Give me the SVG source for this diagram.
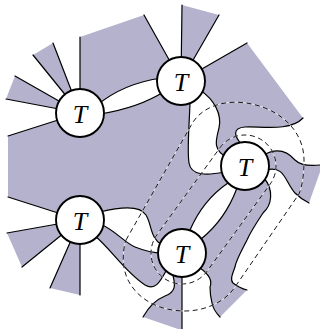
<svg xmlns="http://www.w3.org/2000/svg" width="320" height="329" viewBox="0 0 320 329">
<style>
.face{fill:#b4b2cc;stroke:none}
.edge{fill:none;stroke:#000;stroke-width:1.2;stroke-linecap:round}
.loop-bg{fill:none;stroke:#fff;stroke-width:0.7}
.loop{fill:none;stroke:#000;stroke-width:0.9;stroke-dasharray:5 3.5}
.node circle{fill:#fff;stroke:#000;stroke-width:1.9}
.node text{font-family:"Liberation Serif","Times New Roman",serif;font-style:italic;font-size:26px;text-anchor:middle}
</style>
<rect width="320" height="329" fill="#fff"/>

<!-- shaded faces -->
<g id="faces">
  <path class="face" d="M80,113 L53,43 L33,55 Z"/>
  <path class="face" d="M80,113 L15,76 L6,99 Z"/>
  <path class="face" d="M80,113 L80,37 L144,15 L181,81 L160,79 C140,81 115,90 100,104 Z"/>
  <path class="face" d="M181,81 L182,5 L219,15 Z"/>
  <path class="face" d="M181,81 L247,43 L303,118 C290,132 260,126 245,127 C232,128 234,136 242,145 L245,166 L228,158 C212,150 216,140 219,128 C222,115 215,100 203,92 Z"/>
  <path class="face" d="M245,166 L262,156 C278,146 288,152 295,160 C300,165 310,166 320,165 L320,172 L309,203 C305,201 300,198 295,193 C285,182 285,165 266,170 Z"/>
  <path class="face" d="M245,166 L264,178 C274,190 272,205 263,213 C255,225 250,233 247,240 C242,250 236,260 235,267 C232,275 230,280 233,283 C238,287 243,289 247,290 L220,317 C216,313 213,308 212,303 C210,295 210,290 210,287 C212,282 210,275 200,268 L182,253 L201,239 Q225,220 237,188 Z"/>
  <path class="face" d="M80,113 L100,114 C125,110 148,102 165,91 L181,81 L190,103 C189,130 187,150 189,163 C191,175 205,176 224,172 L245,166 L228,183 Q203,200 190,230 L182,253 L162,245 C150,238 152,225 146,215 C140,205 120,207 100,212 L80,220 L8,197 L8,136 Z"/>
  <path class="face" d="M80,220 L100,224 C115,230 125,243 135,247 C145,251 152,253 162,253 L182,253 L166,271 C160,282 155,291 145,285 C125,272 110,248 95,236 Z"/>
  <path class="face" d="M182,253 L182,329 L178,329 L143,317 C148,308 155,300 165,296 C176,292 176,285 172,272 Z"/>
  <path class="face" d="M80,220 L7,233 L22,267 Z"/>
  <path class="face" d="M80,220 L50,288 L80,295 Z"/>
</g>

<!-- legs and bonds -->
<g id="connectors">
  <path class="edge" d="M80,113 L53,43 M80,113 L33,55 M80,113 L15,76 M80,113 L6,99 M80,113 L8,136 M80,113 L80,37"/>
  <path class="edge" d="M96,106 C115,90 140,81 162,78"/>
  <path class="edge" d="M100,114 C125,110 148,102 165,91"/>
  <path class="edge" d="M181,81 L144,15 M181,81 L182,5 M181,81 L219,15 M181,81 L247,43"/>
  <path class="edge" d="M190,95 L190,103 C189,130 187,150 189,163 C191,175 205,176 224,172"/>
  <path class="edge" d="M200,90 C215,100 222,115 219,128 C216,140 212,150 228,158"/>
  <path class="edge" d="M303,118 C290,132 260,126 245,127 C232,128 234,136 242,145"/>
  <path class="edge" d="M262,156 C278,146 288,152 295,160 C300,165 310,166 320,165"/>
  <path class="edge" d="M266,170 C285,165 285,182 295,193 C300,198 305,201 309,203"/>
  <path class="edge" d="M264,178 C274,190 272,205 263,213 C255,225 250,233 247,240 C242,250 236,260 235,267 C232,275 230,280 233,283 C238,287 243,289 247,290"/>
  <path class="edge" d="M228,183 Q203,200 190,230"/>
  <path class="edge" d="M237,188 Q225,220 201,239"/>
  <path class="edge" d="M200,268 C210,275 212,282 210,287 C210,290 210,295 212,303 C213,308 216,313 220,317"/>
  <path class="edge" d="M182,270 L182,329"/>
  <path class="edge" d="M172,272 C176,285 176,292 165,296 C155,300 148,308 143,317"/>
  <path class="edge" d="M100,212 C120,207 140,205 146,215 C152,225 150,238 162,245"/>
  <path class="edge" d="M100,224 C115,230 125,243 135,247 C145,251 152,253 162,253"/>
  <path class="edge" d="M95,236 C110,248 125,272 145,285 C155,291 160,282 166,271"/>
  <path class="edge" d="M80,220 L8,197 M80,220 L7,233 M80,220 L22,267 M80,220 L50,288 M80,220 L80,295"/>
</g>

<!-- dashed regions -->
<g id="regions">
  <path class="loop-bg" d="M126,240 L193,122 C208,100 240,98 265,108 C290,118 304,138 304,160 C304,172 303,184 299,194 L235,287 C225,302 205,311 185,311 C160,311 138,300 128,280 C122,268 122,252 126,240 Z"/>
  <path class="loop" d="M126,240 L193,122 C208,100 240,98 265,108 C290,118 304,138 304,160 C304,172 303,184 299,194 L235,287 C225,302 205,311 185,311 C160,311 138,300 128,280 C122,268 122,252 126,240 Z"/>
  <path class="loop-bg" d="M219.9,147.8 A31,31 0 0,1 270.1,184.2 L207.1,271.2 A31,31 0 0,1 156.9,234.8 Z"/>
  <path class="loop" d="M219.9,147.8 A31,31 0 0,1 270.1,184.2 L207.1,271.2 A31,31 0 0,1 156.9,234.8 Z"/>
</g>

<g id="n1" class="node"><circle cx="80" cy="113" r="24"/><text x="80" y="122.5">T</text></g>
<g id="n2" class="node"><circle cx="181" cy="81" r="24"/><text x="181" y="90.5">T</text></g>
<g id="n3" class="node"><circle cx="245" cy="166" r="24"/><text x="245" y="175.5">T</text></g>
<g id="n4" class="node"><circle cx="80" cy="220" r="24"/><text x="80" y="229.5">T</text></g>
<g id="n5" class="node"><circle cx="182" cy="253" r="24"/><text x="182" y="262.5">T</text></g>
</svg>
